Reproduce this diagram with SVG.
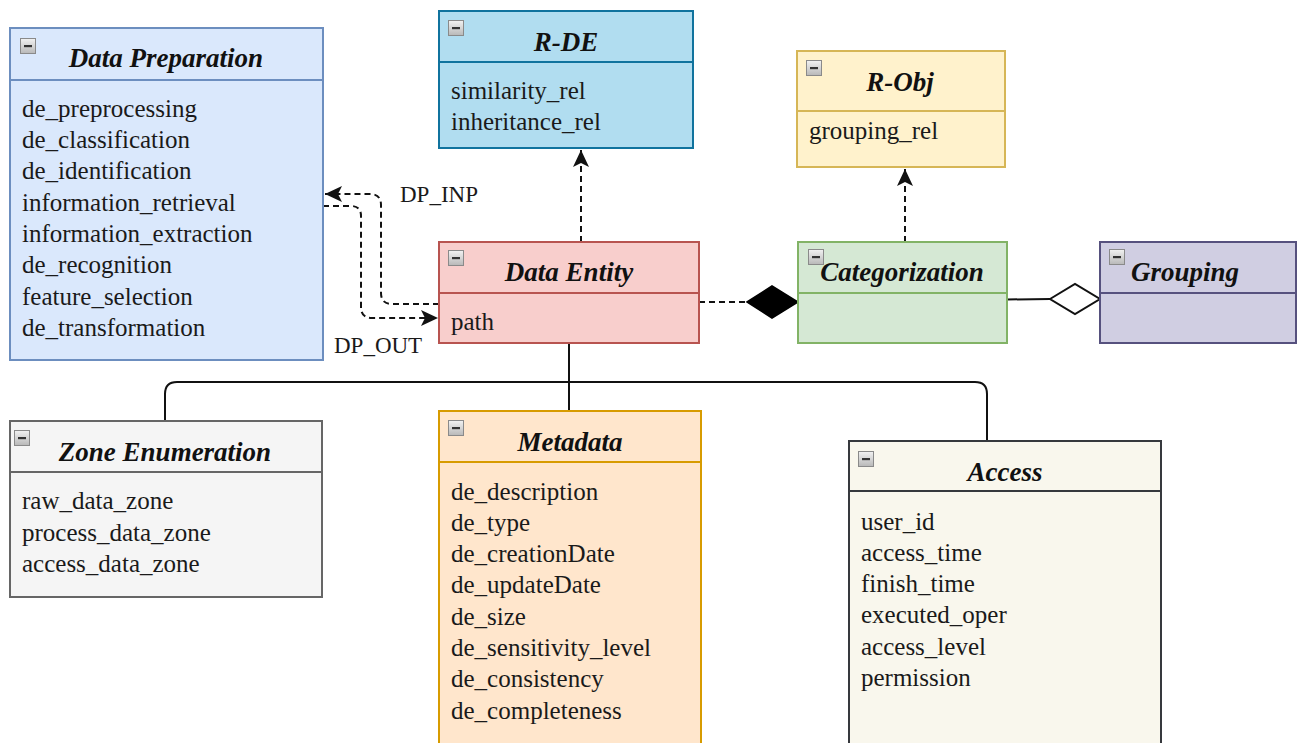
<svg xmlns="http://www.w3.org/2000/svg" xmlns:xlink="http://www.w3.org/1999/xlink" width="1298" height="743" viewBox="0 0 1298 743">
<style>
.box{stroke-width:2}
.t{font-family:"Liberation Serif","Times New Roman",serif;font-size:27px;font-weight:bold;font-style:italic;fill:#111;text-anchor:middle}
.a{font-family:"Liberation Serif","Times New Roman",serif;font-size:25px;fill:#1a1a1a}
.lbl{font-family:"Liberation Serif","Times New Roman",serif;font-size:23px;fill:#1a1a1a}
.dash{fill:none;stroke:#111;stroke-width:2;stroke-dasharray:6 4}
.solid{fill:none;stroke:#111;stroke-width:2}
</style>
<defs>
<linearGradient id="ig" x1="0" y1="0" x2="0" y2="1"><stop offset="0" stop-color="#f2f2f2"/><stop offset="1" stop-color="#b8b8b8"/></linearGradient>
<g id="mini"><rect x="0.5" y="0.5" width="15" height="15" fill="url(#ig)" stroke="#8a8a8a" stroke-width="1"/><rect x="4" y="7" width="8" height="2.2" fill="#333"/></g>
<marker id="arr" markerUnits="userSpaceOnUse" markerWidth="18" markerHeight="16" viewBox="0 0 18 16" refX="17" refY="8" orient="auto">
<path d="M0,0 L17,8 L0,16 L4,8 Z" fill="#111"/>
</marker>
</defs>

<g id="connectors">
<path class="dash" d="M439 304 L392 304 Q381 304 381 293 L381 205 Q381 194 370 194 L325 194" marker-end="url(#arr)"/>
<path class="dash" d="M323 206 L351 206 Q361 206 361 216 L361 307 Q361 318 372 318 L438 318" marker-end="url(#arr)"/>
<path class="dash" d="M581 242 L581 150" marker-end="url(#arr)"/>
<path class="dash" d="M905 242 L905 169" marker-end="url(#arr)"/>
<path class="dash" d="M699 302 L747 302"/>
<path d="M747 302 L772 286 L798 302 L772 318 Z" fill="#000" stroke="#000" stroke-width="1.5"/>
<path class="solid" d="M1007 299.5 L1050 299"/>
<path d="M1050 299 L1075 284 L1100 299 L1075 314 Z" fill="#fff" stroke="#111" stroke-width="2"/>
<path class="solid" d="M569 343 L569 411"/>
<path class="solid" d="M165 421 L165 394 Q165 382 177 382 L975 382 Q987 382 987 394 L987 441"/>
<text class="lbl" x="400" y="202">DP_INP</text>
<text class="lbl" x="334" y="353">DP_OUT</text>
</g>

<g id="data-preparation">
<rect class="box" x="10" y="28" width="313" height="332" fill="#dae8fc" stroke="#6c8ebf"/>
<line x1="10" y1="80" x2="323" y2="80" stroke="#6c8ebf" stroke-width="2"/>
<use xlink:href="#mini" x="20" y="38"/>
<text class="t" x="166" y="67">Data Preparation</text>
<text class="a" x="22" y="117">de_preprocessing</text>
<text class="a" x="22" y="148">de_classification</text>
<text class="a" x="22" y="179">de_identification</text>
<text class="a" x="22" y="211">information_retrieval</text>
<text class="a" x="22" y="242">information_extraction</text>
<text class="a" x="22" y="273">de_recognition</text>
<text class="a" x="22" y="305">feature_selection</text>
<text class="a" x="22" y="336">de_transformation</text>
</g>

<g id="r-de">
<rect class="box" x="439" y="11" width="254" height="137" fill="#b1ddf0" stroke="#10739e"/>
<line x1="439" y1="62" x2="693" y2="62" stroke="#10739e" stroke-width="2"/>
<use xlink:href="#mini" x="448" y="20"/>
<text class="t" x="566" y="51">R-DE</text>
<text class="a" x="451" y="99">similarity_rel</text>
<text class="a" x="451" y="130">inheritance_rel</text>
</g>

<g id="data-entity">
<rect class="box" x="439" y="242" width="260" height="101" fill="#f8cecc" stroke="#b85450"/>
<line x1="439" y1="293" x2="699" y2="293" stroke="#b85450" stroke-width="2"/>
<use xlink:href="#mini" x="448" y="250"/>
<text class="t" x="569" y="281">Data Entity</text>
<text class="a" x="451" y="330">path</text>
</g>

<g id="r-obj">
<rect class="box" x="797" y="51" width="208" height="116" fill="#fff2cc" stroke="#d6b656"/>
<line x1="797" y1="111" x2="1005" y2="111" stroke="#d6b656" stroke-width="2"/>
<use xlink:href="#mini" x="806" y="60"/>
<text class="t" x="900" y="91">R-Obj</text>
<text class="a" x="809" y="139">grouping_rel</text>
</g>

<g id="categorization">
<rect class="box" x="798" y="242" width="209" height="101" fill="#d5e8d4" stroke="#82b366"/>
<line x1="798" y1="293" x2="1007" y2="293" stroke="#82b366" stroke-width="2"/>
<use xlink:href="#mini" x="808" y="249"/>
<text class="t" x="902" y="281">Categorization</text>
</g>

<g id="grouping">
<rect class="box" x="1100" y="242" width="196" height="101" fill="#d0cee2" stroke="#56517e"/>
<line x1="1100" y1="293" x2="1296" y2="293" stroke="#56517e" stroke-width="2"/>
<use xlink:href="#mini" x="1109" y="249"/>
<text class="t" x="1185" y="281">Grouping</text>
</g>

<g id="zone-enumeration">
<rect class="box" x="10" y="421" width="312" height="176" fill="#f5f5f5" stroke="#666666"/>
<line x1="10" y1="472" x2="322" y2="472" stroke="#666666" stroke-width="2"/>
<use xlink:href="#mini" x="14" y="430"/>
<text class="t" x="165" y="461">Zone Enumeration</text>
<text class="a" x="22" y="509">raw_data_zone</text>
<text class="a" x="22" y="541">process_data_zone</text>
<text class="a" x="22" y="572">access_data_zone</text>
</g>

<g id="metadata">
<rect class="box" x="439" y="411" width="262" height="340" fill="#ffe6cc" stroke="#d79b00"/>
<line x1="439" y1="462" x2="701" y2="462" stroke="#d79b00" stroke-width="2"/>
<use xlink:href="#mini" x="448" y="420"/>
<text class="t" x="570" y="451">Metadata</text>
<text class="a" x="451" y="500">de_description</text>
<text class="a" x="451" y="531">de_type</text>
<text class="a" x="451" y="562">de_creationDate</text>
<text class="a" x="451" y="593">de_updateDate</text>
<text class="a" x="451" y="625">de_size</text>
<text class="a" x="451" y="656">de_sensitivity_level</text>
<text class="a" x="451" y="687">de_consistency</text>
<text class="a" x="451" y="719">de_completeness</text>
</g>

<g id="access">
<rect class="box" x="849" y="441" width="312" height="310" fill="#f9f7ed" stroke="#36393d"/>
<line x1="849" y1="491" x2="1161" y2="491" stroke="#36393d" stroke-width="2"/>
<use xlink:href="#mini" x="858" y="451"/>
<text class="t" x="1005" y="481">Access</text>
<text class="a" x="861" y="530">user_id</text>
<text class="a" x="861" y="561">access_time</text>
<text class="a" x="861" y="592">finish_time</text>
<text class="a" x="861" y="623">executed_oper</text>
<text class="a" x="861" y="655">access_level</text>
<text class="a" x="861" y="686">permission</text>
</g>
</svg>
